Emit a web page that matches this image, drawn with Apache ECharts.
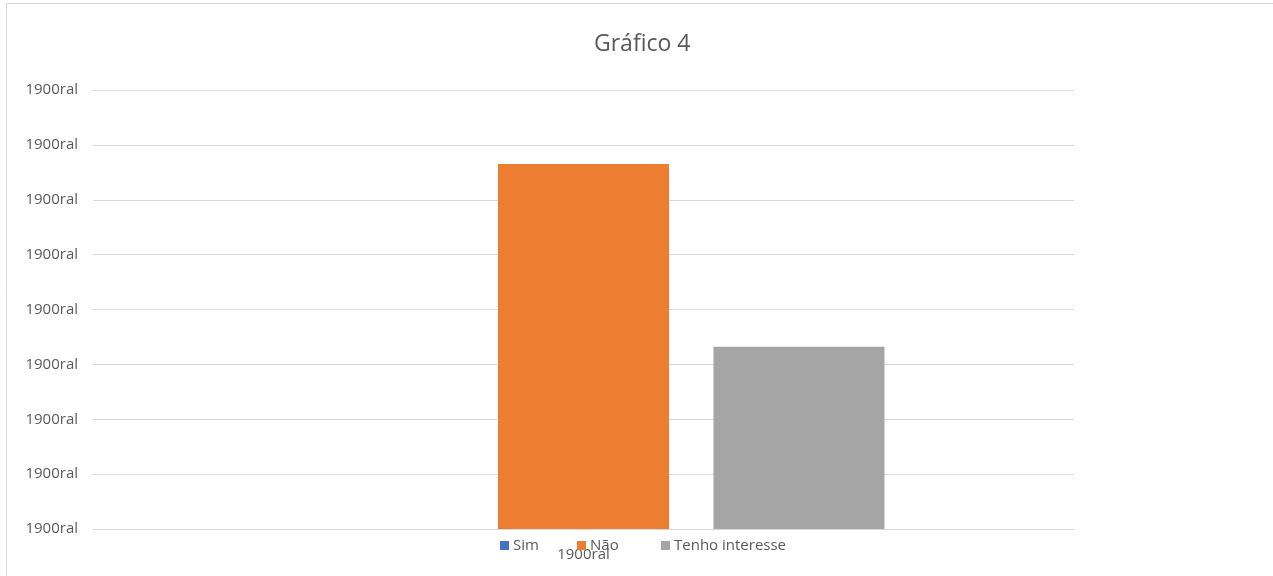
<!DOCTYPE html>
<html>
<head>
<meta charset="utf-8">
<script src="https://cdn.jsdelivr.net/npm/echarts@6/dist/echarts.min.js"></script>
<style>
html,body{margin:0;padding:0;background:#fff;}
#chart{width:1273px;height:576px;}
</style>
</head>
<body>
<div id="chart"></div>
<script>
const title = 'Gráfico 4';
const categories = ['1900ral'];
const seriesNames = ['Sim', 'Não', 'Tenho interesse'];
const seriesColors = ['#4472C4', '#ED7D31', '#A5A5A5'];
const simValues = [0];
const naoValues = [6.65];
const tenhoValues = [3.32];
const yTickLabel = '1900ral';
const yMin = 0, yMax = 8, yInterval = 1;

const font = '"Open Sans", "Liberation Sans", sans-serif';
const txt = '#595959';
const chart = echarts.init(document.getElementById('chart'));
const valuesList = [simValues, naoValues, tenhoValues];
const legendLefts = [500, 577, 661];

chart.setOption({
  animation: false,
  backgroundColor: '#fff',
  textStyle: { fontFamily: font },
  title: {
    text: title, left: 589, top: 28,
    textStyle: { fontFamily: font, fontSize: 23, fontWeight: 'normal', color: txt }
  },
  graphic: [{
    type: 'rect', shape: { x: 6.5, y: 3.5, width: 1400, height: 700 },
    style: { fill: 'none', stroke: '#d9d9d9', lineWidth: 1 }, silent: true
  }],
  legend: seriesNames.map((n, i) => ({
    data: [n], left: legendLefts[i], top: 538,
    icon: 'rect', itemWidth: 9, itemHeight: 9, itemGap: 5,
    textStyle: { fontFamily: font, fontSize: 15, color: txt, padding: [0, 0, 0, -1] },
    padding: 0
  })),
  grid: { left: 93, right: 199, top: 90, bottom: 47, containLabel: false },
  xAxis: {
    type: 'category', data: categories,
    axisLine: { lineStyle: { color: '#d9d9d9' } },
    axisTick: { show: false },
    axisLabel: { fontFamily: font, fontSize: 15, color: txt, margin: 18 }
  },
  yAxis: {
    type: 'value', min: yMin, max: yMax, interval: yInterval,
    axisLine: { show: false }, axisTick: { show: false },
    splitLine: { lineStyle: { color: '#d9d9d9' } },
    axisLabel: { fontFamily: font, fontSize: 15, color: txt, margin: 15,
      formatter: () => yTickLabel }
  },
  series: seriesNames.map((n, i) => ({
    name: n, type: 'bar', data: valuesList[i],
    barWidth: 171, barGap: '26%',
    itemStyle: { color: seriesColors[i] }
  }))
});
</script>
</body>
</html>
